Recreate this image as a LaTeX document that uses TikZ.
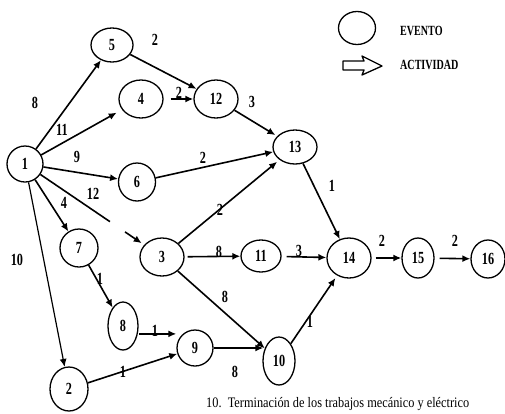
\documentclass[tikz,border=0pt]{standalone}
\usepackage{fontspec}
\setmainfont{Liberation Serif}[FakeStretch=0.72]
\newfontfamily\capfont{Liberation Serif}[FakeStretch=0.85]
\usetikzlibrary{shapes.geometric,arrows.meta,calc}
\begin{document}
\begin{tikzpicture}[x=1pt,y=-1pt,
  ev/.style={ellipse,draw,line width=1.3pt,inner sep=0pt,font=\bfseries\fontsize{17}{17}\selectfont},
  act/.style={line width=1.6pt,-{Latex[length=8pt,width=7pt]}},
  plain/.style={line width=1.6pt},
  lab/.style={inner sep=0pt,font=\bfseries\fontsize{17}{17}\selectfont},
  legtext/.style={inner sep=0pt,anchor=west,font=\bfseries\fontsize{14}{14}\selectfont}
]
\useasboundingbox (0,0) rectangle (505,413);
\clip (0,0) rectangle (505,413);
% events
\node[ev,minimum width=36pt,minimum height=36pt] (n1) at (25,164) {1};
\node[ev,minimum width=42pt,minimum height=34pt] (n5) at (112,45) {5};
\node[ev,minimum width=44pt,minimum height=38pt] (n4) at (141,99) {4};
\node[ev,minimum width=44pt,minimum height=38pt] (n12) at (216,99) {12};
\node[ev,minimum width=37pt,minimum height=38pt] (n6) at (137,182) {6};
\node[ev,minimum width=44pt,minimum height=34pt] (n13) at (295,147) {13};
\node[ev,minimum width=38pt,minimum height=38pt] (n7) at (79,248) {7};
\node[ev,minimum width=44pt,minimum height=38pt] (n3) at (162,257) {3};
\node[ev,minimum width=30pt,minimum height=48pt] (n8) at (123,326) {8};
\node[ev,minimum width=36pt,minimum height=36pt] (n9) at (195,348) {9};
\node[ev,minimum width=38pt,minimum height=44pt] (n2) at (69,389) {2};
\node[ev,minimum width=40pt,minimum height=32pt] (n11) at (261,256) {11};
\node[ev,minimum width=44pt,minimum height=40pt] (n14) at (349,258) {14};
\node[ev,minimum width=32pt,minimum height=40pt] (n15) at (418,258) {15};
\node[ev,minimum width=34pt,minimum height=38pt] (n16) at (488,259) {16};
\node[ev,minimum width=32pt,minimum height=48pt] (n10) at (279,361) {10};
% legend
\node[ev,minimum width=37pt,minimum height=33pt] (legev) at (357,28) {};
\node[legtext] (legevt) at (400,31) {EVENTO};
\draw[line width=1.3pt,line join=round] (343,61) -- (364,61) -- (362,56) -- (382,66) -- (362,75) -- (364,70) -- (343,70) -- cycle;
\node[legtext] (legact) at (400,65) {ACTIVIDAD};
% activities
\coordinate (a89) at (n8.-28);
\coordinate (a910) at (n9.east);
\draw[act] (n1) -- (n5);
\draw[act] (n5) -- (n12);
\draw[act,shorten <=7pt] (n4) -- (n12);
\draw[act,shorten >=6pt] (n1) -- (n4);
\draw[act] (n1) -- (n6);
\draw[act] (n6) -- (n13);
\draw[act,shorten >=2pt] (n12) -- (n13);
\draw[plain] (n1) -- ($(n1)!0.62!(n3)$);
\draw[act,shorten >=3pt] ($(n1)!0.73!(n3)$) -- (n3);
\draw[act] (n1) -- (n7);
\draw[act,line width=1.2pt] (n1) -- (n2);
\draw[act] (n7) -- (n8);
\draw[act,shorten <=1pt] (a89) -- (a89 -| n9.west);
\draw[act] (n2) -- (n9);
\draw[act] (a910) -- ($(a910 -| n10.west)+(1,0)$);
\draw[act] (n3) -- (n10);
\draw[act,shorten >=3pt] (n3) -- (n13);
\draw[act,shorten <=3pt] (n3) -- (n11);
\draw[act,shorten <=5pt] (n11) -- (n14);
\draw[act] (n13) -- (n14);
\draw[act,shorten >=3pt] (n10) -- (n14);
\draw[act,shorten <=4pt] (n14) -- (n15);
\draw[act,shorten <=5pt] (n15) -- (n16);
% durations
\node[lab] (l15) at (35,103) {8};
\node[lab] (l512) at (155,40) {2};
\node[lab] (l412) at (179,93) {2};
\node[lab] (l14) at (62,130) {11};
\node[lab] (l16) at (77,157) {9};
\node[lab] (l613) at (203,158) {2};
\node[lab] (l1213) at (252,102) {3};
\node[lab] (l13) at (93,194) {12};
\node[lab] (l17) at (64,203) {4};
\node[lab] (l12) at (17,260) {10};
\node[lab] (l78) at (100,279) {1};
\node[lab] (l89) at (155,331) {1};
\node[lab] (l29) at (123,372) {1};
\node[lab] (l910) at (235,372) {8};
\node[lab] (l310) at (225,297) {8};
\node[lab] (l313) at (220,210) {2};
\node[lab] (l311) at (219,252) {8};
\node[lab] (l1114) at (299,251) {3};
\node[lab] (l1314) at (332,186) {1};
\node[lab] (l1014) at (310,322) {1};
\node[lab] (l1415) at (382,241) {2};
\node[lab] (l1516) at (455,241) {2};
% caption
\node[inner sep=0pt,anchor=south west,font=\capfont\fontsize{14.5}{14.5}\selectfont] (cap) at (206,411) {10.~~Terminación de los trabajos mecánico y eléctrico};
\end{tikzpicture}
\end{document}
